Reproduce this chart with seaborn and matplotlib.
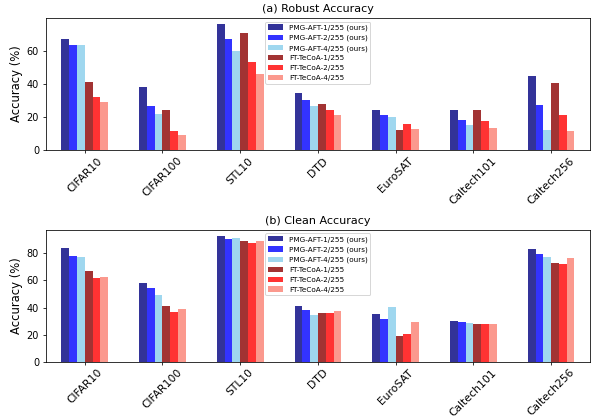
import pandas as pd
import matplotlib
matplotlib.use('Agg')
import matplotlib.pyplot as plt
import seaborn as sns

# datasets and methods
datasets = ['CIFAR10', 'CIFAR100', 'STL10', 'DTD', 'EuroSAT', 'Caltech101', 'Caltech256']
methods = ['PMG-AFT-1/255 (ours)', 'PMG-AFT-2/255 (ours)', 'PMG-AFT-4/255 (ours)',
           'FT-TeCoA-1/255', 'FT-TeCoA-2/255', 'FT-TeCoA-4/255']
colors = ['navy', 'blue', 'skyblue', 'darkred', 'red', 'salmon']

# robust accuracy, one list per method (values per dataset)
robust_pmg1 = [67, 38, 76, 34.5, 24, 24, 45]
robust_pmg2 = [63.5, 26.5, 67, 30.5, 21, 18, 27.5]
robust_pmg4 = [63.5, 22, 60, 26.5, 20, 15, 12.5]
robust_tecoa1 = [41, 24.5, 71, 28, 12.5, 24, 40.5]
robust_tecoa2 = [32, 11.5, 53, 24, 16, 17.5, 21.5]
robust_tecoa4 = [29, 9, 46, 21, 13, 13.5, 11.5]

# clean accuracy
clean_pmg1 = [83.7, 58.4, 92.8, 41, 35, 30.4, 83]
clean_pmg2 = [78, 54.2, 90.8, 38, 32, 29.4, 79.5]
clean_pmg4 = [77, 49, 91.3, 34.6, 40.7, 28.7, 77.5]
clean_tecoa1 = [66.7, 41, 89, 35.8, 19, 28.2, 72.9]
clean_tecoa2 = [62, 36.6, 87.4, 35.8, 20.4, 28, 72.4]
clean_tecoa4 = [62.3, 38.8, 89.3, 37.5, 29.2, 28, 76.8]

robust = [robust_pmg1, robust_pmg2, robust_pmg4, robust_tecoa1, robust_tecoa2, robust_tecoa4]
clean = [clean_pmg1, clean_pmg2, clean_pmg4, clean_tecoa1, clean_tecoa2, clean_tecoa4]


def to_long(values):
    rows = []
    for m, vals in zip(methods, values):
        for d, v in zip(datasets, vals):
            rows.append({'Dataset': d, 'Method': m, 'Accuracy': v})
    return pd.DataFrame(rows)


fig, axes = plt.subplots(2, 1, figsize=(596 / 70, 417 / 70), dpi=70)
fig.subplots_adjust(left=0.077, right=0.99, top=0.957, bottom=0.132, hspace=0.6)

for ax, values, title in zip(axes, [robust, clean], ['(a) Robust Accuracy', '(b) Clean Accuracy']):
    df = to_long(values)
    sns.barplot(data=df, x='Dataset', y='Accuracy', hue='Method', order=datasets,
                hue_order=methods, palette=colors, saturation=1, alpha=0.8, width=0.6,
                linewidth=0, ax=ax)
    ax.set_title(title, fontsize=11.5)
    ax.set_xlabel('')
    ax.set_ylabel('Accuracy (%)', fontsize=12)
    ax.tick_params(axis='x', labelsize=11, rotation=45, pad=2)
    ax.tick_params(axis='y', labelsize=10)
    ax.legend(loc='upper center', fontsize=7.5)

plt.savefig('out.png', dpi=70)
